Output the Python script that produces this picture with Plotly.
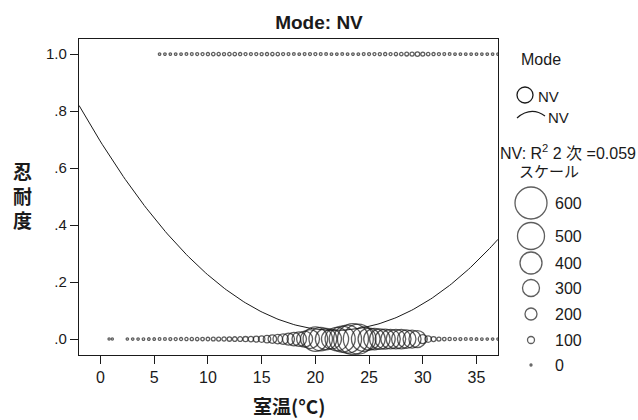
import numpy as np
import plotly.graph_objects as go

# ---------------- data ----------------
# y = 0 row (room temperature, °C) and number of cases at each temperature
temp_0 = [0.8, 1.1, 2.5, 3.0, 3.5, 4.0, 4.5, 5.0, 5.5, 6.0, 6.5, 7.0, 7.5, 8.0, 8.5, 9.0,
          9.5, 10.0, 10.5, 11.0, 11.5, 12.0, 12.5, 13.0, 13.5, 14.0, 14.5, 15.0, 15.5,
          16.0, 16.5, 17.0, 17.5, 18.0, 18.5, 19.0, 19.5, 20.0, 20.5, 21.0, 21.5, 22.0,
          22.5, 23.0, 23.5, 24.0, 24.5, 25.0, 25.5, 26.0, 26.5, 27.0, 27.5, 28.0, 28.5,
          29.0, 29.5, 30.0, 30.5, 31.0, 31.5, 32.0, 32.5, 33.0, 33.5, 34.0, 34.5, 35.0,
          35.5, 36.0, 36.5, 37.0]
count_0 = [4, 4, 6, 8, 8, 10, 12, 12, 14, 16, 18, 20, 22, 24, 26, 28,
           30, 32, 36, 40, 44, 48, 52, 56, 62, 70, 80, 90, 110,
           130, 150, 170, 200, 230, 250, 280, 340, 450, 430, 390, 360, 430,
           480, 520, 580, 560, 450, 400, 390, 370, 360, 350, 350, 350, 330,
           320, 300, 140, 90, 60, 40, 30, 25, 20, 18, 16, 14, 12,
           10, 8, 8, 8]

# y = 1 row
temp_1 = [5.5, 6.0, 6.5, 7.0, 7.5, 8.0, 8.5, 9.0, 9.5, 10.0, 10.5, 11.0, 11.5, 12.0,
          12.5, 13.0, 13.5, 14.0, 14.5, 15.0, 15.5, 16.0, 16.5, 17.0, 17.5, 18.0, 18.5,
          19.0, 19.5, 20.0, 20.5, 21.0, 21.5, 22.0, 22.5, 23.0, 23.5, 24.0, 24.5, 25.0,
          25.5, 26.0, 26.5, 27.0, 27.5, 28.0, 28.5, 29.0, 29.5, 30.0, 30.5, 31.0, 31.5,
          32.0, 32.5, 33.0, 33.5, 34.0, 34.5, 35.0, 35.5, 36.0, 36.5, 37.0]
count_1 = [8, 10, 8, 10, 12, 14, 16, 18, 20, 24, 30, 26, 22, 28,
           30, 24, 20, 18, 20, 22, 24, 26, 28, 20, 16, 14, 12,
           16, 18, 20, 16, 14, 12, 10, 14, 12, 10, 12, 16, 18,
           20, 22, 24, 20, 26, 30, 36, 42, 50, 40, 30, 24, 20,
           16, 14, 12, 10, 12, 10, 10, 8, 10, 8, 10]

# quadratic fit (R^2 = 0.059): y = c0 + c1*x + c2*x^2
fit_coef = [0.693, -0.0607, 0.00139]
fit_range = [-2.0, 37.0]

# scale legend
scale_values = [600, 500, 400, 300, 200, 100, 0]
scale_labels = ["600", "500", "400", "300", "200", "100", "0"]

x_ticks = [0, 5, 10, 15, 20, 25, 30, 35]
y_ticks = [0.0, 0.2, 0.4, 0.6, 0.8, 1.0]
y_ticktext = [".0", ".2", ".4", ".6", ".8", "1.0"]

# ---------------- styling / layout ----------------
W, H = 638, 420
ML, MR, MT, MB = 79, 10, 39, 40
PW, PH = W - ML - MR, H - MT - MB
PLOT_RIGHT, PLOT_BOTTOM = 498, 355
INK = "#1a1a1a"
FONT = "Liberation Sans, Arial, Noto Sans CJK JP, sans-serif"
JFONT = "Noto Sans CJK JP, Liberation Sans, sans-serif"
MLW = 1.3  # marker outline width


def px_x(p):
    return (p - ML) / PW


def px_y(p):
    return (H - MB - p) / PH


def diam(c):
    return 2.0 + 0.05 * c


fig = go.Figure()

fig.add_trace(go.Scatter(
    x=temp_1, y=[1.0] * len(temp_1), mode="markers",
    marker=dict(symbol="circle-open", size=[diam(c) for c in count_1],
                color=INK, line=dict(width=MLW)),
    hoverinfo="x", showlegend=False))

fig.add_trace(go.Scatter(
    x=temp_0, y=[0.0] * len(temp_0), mode="markers",
    marker=dict(symbol="circle-open", size=[diam(c) for c in count_0],
                color=INK, line=dict(width=MLW)),
    hoverinfo="x", showlegend=False))

xc = np.linspace(fit_range[0], fit_range[1], 200)
yc = fit_coef[0] + fit_coef[1] * xc + fit_coef[2] * xc ** 2
fig.add_trace(go.Scatter(x=xc, y=yc, mode="lines", line=dict(color=INK, width=1),
                         hoverinfo="skip", showlegend=False))

# scale legend on an overlay axis measured in pixels
legend_y_px = [203, 236, 263, 288, 314, 340, 365]
legend_x_px = 531
fig.add_trace(go.Scatter(
    x=[legend_x_px] * len(scale_values), y=legend_y_px, mode="markers",
    marker=dict(symbol="circle-open", size=[diam(v) for v in scale_values],
                color=INK, line=dict(width=MLW)),
    xaxis="x2", yaxis="y2", hoverinfo="skip", showlegend=False))
# Mode legend circle
fig.add_trace(go.Scatter(
    x=[525], y=[95], mode="markers",
    marker=dict(symbol="circle-open", size=16, color=INK, line=dict(width=MLW)),
    xaxis="x2", yaxis="y2", hoverinfo="skip", showlegend=False))

ann = []
for lab, yp in zip(scale_labels, legend_y_px):
    ann.append(dict(x=553, y=yp, xref="x2", yref="y2", text=lab, showarrow=False,
                    xanchor="left", yanchor="middle",
                    font=dict(family=FONT, size=16, color=INK)))
ann += [
    dict(x=519, y=59, xref="x2", yref="y2", text="Mode", showarrow=False,
         xanchor="left", yanchor="middle", font=dict(family=FONT, size=16, color=INK)),
    dict(x=536, y=96, xref="x2", yref="y2", text="NV", showarrow=False,
         xanchor="left", yanchor="middle", font=dict(family=FONT, size=15, color=INK)),
    dict(x=546, y=117, xref="x2", yref="y2", text="NV", showarrow=False,
         xanchor="left", yanchor="middle", font=dict(family=FONT, size=15, color=INK)),
    dict(x=498, y=152, xref="x2", yref="y2",
         text="NV: R<sup>2</sup> 2 次 =0.059", showarrow=False,
         xanchor="left", yanchor="middle", font=dict(family=FONT, size=16, color=INK)),
    dict(x=517, y=170, xref="x2", yref="y2", text="スケール", showarrow=False,
         xanchor="left", yanchor="middle", font=dict(family=JFONT, size=15, color=INK)),
    # axis titles
    dict(x=px_x(23), y=px_y(195), xref="paper", yref="paper",
         text="<b>忍<br>耐<br>度</b>", showarrow=False, xanchor="center", yanchor="middle",
         font=dict(family=JFONT, size=19, color=INK)),
    dict(x=px_x(289), y=px_y(405), xref="paper", yref="paper",
         text="<b>室温(°C)</b>", showarrow=False, xanchor="center", yanchor="middle",
         font=dict(family=JFONT, size=19, color=INK)),
]

fig.update_layout(
    width=W, height=H,
    margin=dict(l=ML, r=MR, t=MT, b=MB),
    paper_bgcolor="white", plot_bgcolor="white",
    showlegend=False,
    title=dict(text="<b>Mode: NV</b>", x=0.5, xref="container", xanchor="center",
               y=1 - 22 / H, yref="container", yanchor="middle",
               font=dict(family=FONT, size=19, color=INK)),
    xaxis=dict(domain=[0, px_x(PLOT_RIGHT)], range=[-2, 37], tickvals=x_ticks,
               ticks="outside", ticklen=8, tickwidth=1.3, tickcolor=INK,
               showline=True, linecolor=INK, linewidth=1.3, mirror=True,
               showgrid=False, zeroline=False,
               tickfont=dict(family=FONT, size=16, color=INK), anchor="y"),
    yaxis=dict(domain=[px_y(PLOT_BOTTOM), 1], range=[-0.056, 1.053],
               tickvals=y_ticks, ticktext=y_ticktext,
               ticks="outside", ticklen=8, tickwidth=1.3, tickcolor=INK,
               showline=True, linecolor=INK, linewidth=1.3, mirror=True,
               showgrid=False, zeroline=False,
               tickfont=dict(family=FONT, size=15, color=INK), anchor="x"),
    xaxis2=dict(domain=[px_x(PLOT_RIGHT), 1], range=[PLOT_RIGHT, W - MR],
                visible=False, anchor="y2", fixedrange=True),
    yaxis2=dict(domain=[0, 1], range=[H - MB, MT], visible=False, anchor="x2",
                fixedrange=True),
    annotations=ann,
    shapes=[dict(type="path", xref="x2", yref="y2",
                 path="M 517 118 Q 531 106 545 116",
                 line=dict(color=INK, width=1.2))],
)

fig.write_html("out.html")
